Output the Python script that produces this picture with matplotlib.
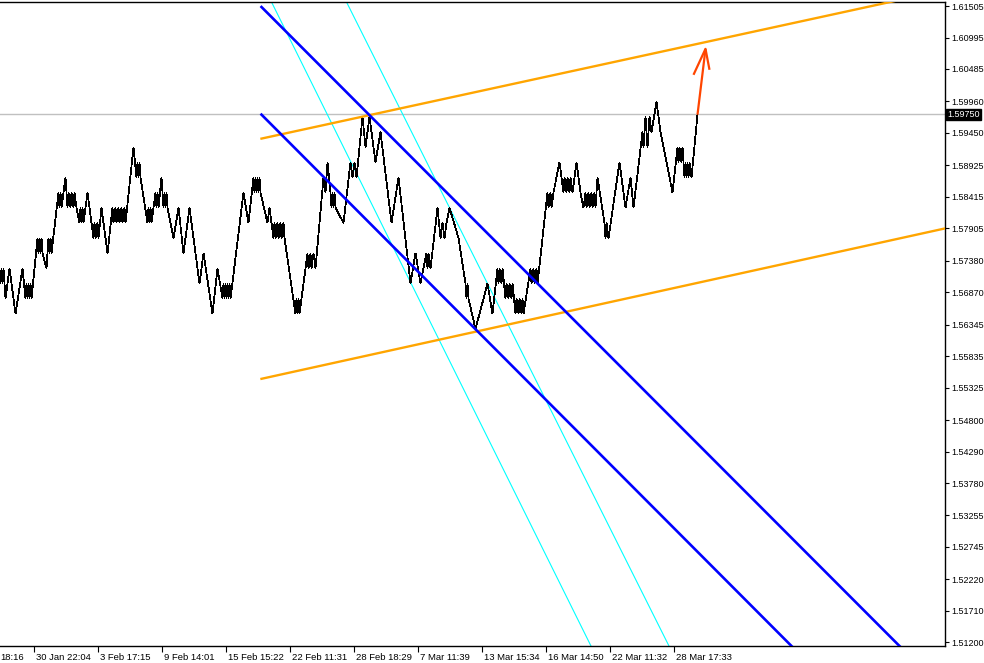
import matplotlib
matplotlib.use("Agg")
import matplotlib.pyplot as plt
import matplotlib.transforms as mtransforms

# ---------------- data ----------------
# price grid on which the zig-zag close line moves
price_grid = [1.59956, 1.59711, 1.59465, 1.59220, 1.58974, 1.58729, 1.58484, 1.58238,
              1.57993, 1.57747, 1.57502, 1.57257, 1.57011, 1.56766, 1.56520, 1.56275]

pivot_bars = [0, 1, 2, 3, 5, 9, 15, 22, 25, 26, 27, 28, 29, 30, 31, 37, 38, 39, 40, 41, 42, 46,
              48, 49, 50, 51, 58, 59, 60, 61, 65, 67, 68, 70, 71, 73, 74, 76, 79, 80, 81, 82, 83,
              87, 93, 94, 95, 97, 98, 101, 107, 112, 113, 115, 116, 118, 119, 121, 122, 124, 125,
              133, 136, 137, 138, 139, 140, 147, 148, 149, 150, 151, 155, 156, 157, 158, 161, 163,
              164, 165, 166, 167, 173, 178, 183, 189, 199, 203, 212, 217, 222, 223, 224, 225, 226,
              227, 228, 229, 230, 243, 248, 253, 254, 255, 256, 257, 258, 259, 260, 267, 269, 273,
              274, 275, 277, 278, 280, 281, 283, 284, 295, 296, 297, 298, 299, 305, 307, 308, 310,
              311, 313, 315, 323, 325, 327, 330, 331, 332, 333, 334, 335, 343, 350, 352, 354, 356,
              362, 365, 369, 375, 380, 391, 398, 410, 415, 420, 426, 427, 428, 430, 437, 440, 442,
              444, 446, 449, 458, 465, 466, 467, 468, 475, 487, 492, 497, 498, 499, 501, 502, 505,
              506, 508, 509, 511, 512, 515, 516, 518, 519, 521, 522, 523, 530, 531, 533, 534, 536,
              537, 547, 548, 550, 551, 553, 559, 563, 564, 566, 567, 569, 570, 572, 576, 580, 583,
              585, 586, 588, 589, 591, 592, 594, 595, 597, 604, 605, 606, 608, 619, 625, 630, 633,
              642, 643, 645, 647, 649, 651, 656, 660, 672, 677, 678, 679, 681, 682, 683, 684, 685,
              686, 687, 688, 689, 691]
pivot_levels = [12, 11, 12, 11, 13, 11, 14, 11, 13, 12, 13, 12, 13, 12, 13, 9, 10, 9, 10, 9, 10, 11,
                9, 10, 9, 10, 6, 7, 6, 7, 5, 7, 6, 7, 6, 7, 6, 7, 8, 7, 8, 7, 8,
                6, 9, 8, 9, 8, 9, 7, 10, 7, 8, 7, 8, 7, 8, 7, 8, 7, 8,
                3, 5, 4, 5, 4, 5, 8, 7, 8, 7, 8, 6, 7, 6, 7, 5, 7,
                6, 7, 6, 7, 9, 7, 10, 7, 12, 10, 14, 11, 13, 12, 13, 12, 13,
                12, 13, 12, 13, 6, 8, 5, 6, 5, 6, 5, 6, 5, 6, 8, 7, 9,
                8, 9, 8, 9, 8, 9, 8, 9, 14, 13, 14, 13, 14, 11, 10, 11, 10,
                11, 10, 11, 5, 6, 4, 6, 7, 6, 7, 6, 7, 8, 4, 5, 4, 5,
                1, 3, 1, 4, 2, 8, 5, 12, 10, 12, 10, 11, 10, 11, 7, 9, 8,
                9, 8, 7, 9, 12, 13, 12, 13, 15, 12, 14, 11, 12, 11, 12, 11, 13,
                12, 13, 12, 13, 12, 14, 13, 14, 13, 14, 13, 14, 11, 12, 11, 12, 11,
                12, 6, 7, 6, 7, 6, 4, 6, 5, 6, 5, 6, 5, 6, 4, 6, 7,
                6, 7, 6, 7, 6, 7, 6, 7, 5, 8, 9, 8, 9, 4, 7, 5, 7,
                2, 3, 1, 3, 1, 2, 0, 2, 6, 3, 4, 3, 4, 3, 4, 5, 4,
                5, 4, 5, 4, 5]
last_bar = 697
last_price = 1.59750

# trend lines: (bar0, price0, bar1, price1)
orange_upper = (261, 1.59358, 876, 1.61522)
orange_lower = (261, 1.55468, 945, 1.57905)
blue_upper = (261, 1.61489, 898, 1.51157)
blue_lower = (261, 1.59746, 790, 1.51157)
cyan_1 = (271, 1.61570, 589, 1.51189)
cyan_2 = (346, 1.61570, 667, 1.51189)

# hand drawn arrow
arrow_shaft_bars = [697, 705]
arrow_shaft_prices = [1.59746, 1.60811]
arrow_head_bars = [693, 705, 709]
arrow_head_prices = [1.60391, 1.60811, 1.60472]

# axes
y_ticks = [1.61505, 1.60995, 1.60485, 1.59960, 1.59450, 1.58925, 1.58415, 1.57905, 1.57380,
           1.56870, 1.56345, 1.55835, 1.55325, 1.54800, 1.54290, 1.53780, 1.53255, 1.52745,
           1.52220, 1.51710, 1.51200]
y_labels = ["1.61505", "1.60995", "1.60485", "1.59960", "1.59450", "1.58925", "1.58415",
            "1.57905", "1.57380", "1.56870", "1.56345", "1.55835", "1.55325", "1.54800",
            "1.54290", "1.53780", "1.53255", "1.52745", "1.52220", "1.51710", "1.51200"]
x_ticks = [33, 97, 161, 225, 289, 353, 417, 481, 545, 609, 673]
x_labels = ["30 Jan 22:04", "3 Feb 17:15", "9 Feb 14:01", "15 Feb 15:22", "22 Feb 11:31",
            "28 Feb 18:29", "7 Mar 11:39", "13 Mar 15:34", "16 Mar 14:50", "22 Mar 11:32",
            "28 Mar 17:33"]
first_partial_label = "18:16"

x_min, x_max = -0.5, 944.5
y_min, y_max = 1.51141, 1.61570

# ---------------- plot ----------------
plt.rcParams['font.family'] = ['Liberation Sans', 'DejaVu Sans']
fig = plt.figure(figsize=(9.84, 6.63), dpi=100)
ax = fig.add_axes([0, 17 / 663, 945 / 984, 644 / 663])
ax.set_xlim(x_min, x_max)
ax.set_ylim(y_min, y_max)

series_bars = pivot_bars + [last_bar]
series_prices = [price_grid[k] for k in pivot_levels] + [last_price]

# current price line
ax.axhline(last_price, color='#C0C0C0', lw=1.0, zorder=1)

ax.plot(series_bars, series_prices, color='black', lw=0.55, zorder=3, antialiased=False,
        solid_joinstyle='bevel')


def ray(line, **kw):
    b0, p0, b1, p1 = line
    slope = (p1 - p0) / (b1 - b0)
    b_end = 2000
    ax.plot([b0, b_end], [p0, p0 + slope * (b_end - b0)], clip_on=True, **kw)


ray(cyan_1, color='#00FFFF', lw=0.8, zorder=2)
ray(cyan_2, color='#00FFFF', lw=0.8, zorder=2)
ray(orange_upper, color='#FFA500', lw=1.7, zorder=4)
ray(orange_lower, color='#FFA500', lw=1.7, zorder=4)
ray(blue_upper, color='#0000FF', lw=1.9, zorder=5)
ray(blue_lower, color='#0000FF', lw=1.9, zorder=5)

ax.plot(arrow_shaft_bars, arrow_shaft_prices, color='#FF4500', lw=1.6, zorder=6,
        solid_capstyle='butt')
ax.plot(arrow_head_bars, arrow_head_prices, color='#FF4500', lw=1.6, zorder=6,
        solid_capstyle='butt')

# spines
ax.spines['left'].set_visible(False)
for s in ['right', 'bottom', 'top']:
    ax.spines[s].set_color('black')
    ax.spines[s].set_linewidth(1.0)

ax.yaxis.tick_right()
ax.set_yticks(y_ticks)
ax.set_yticklabels(y_labels)
ax.tick_params(axis='y', direction='out', length=3, width=0.8, pad=1.5, labelsize=6.5,
               colors='black')
ax.set_xticks(x_ticks)
ax.set_xticklabels(x_labels)
ax.tick_params(axis='x', direction='out', length=4, width=0.8, pad=1.0, labelsize=6.8,
               colors='black')
offset = mtransforms.ScaledTranslation(2 / 100, 0, fig.dpi_scale_trans)
for lab in ax.get_xticklabels():
    lab.set_horizontalalignment('left')
    lab.set_transform(lab.get_transform() + offset)

# partial first label at left edge, aligned with the other tick labels
lab_off = mtransforms.ScaledTranslation(0, -5.0 / 72, fig.dpi_scale_trans)
ax.text(0, 0, first_partial_label, transform=ax.transAxes + lab_off, ha='left', va='top',
        fontsize=6.8, color='black', clip_on=False)

# current price box
blend = mtransforms.blended_transform_factory(ax.transAxes, ax.transData)
ax.text(1.0 + 2 / 945, last_price, "1.59750", transform=blend, ha='left', va='center',
        fontsize=6.5, color='white', zorder=10, clip_on=False,
        bbox=dict(boxstyle='square,pad=0.15', facecolor='black', edgecolor='black'))

ax.set_facecolor('white')
fig.patch.set_facecolor('white')
fig.savefig('out.png', dpi=100, facecolor='white')
